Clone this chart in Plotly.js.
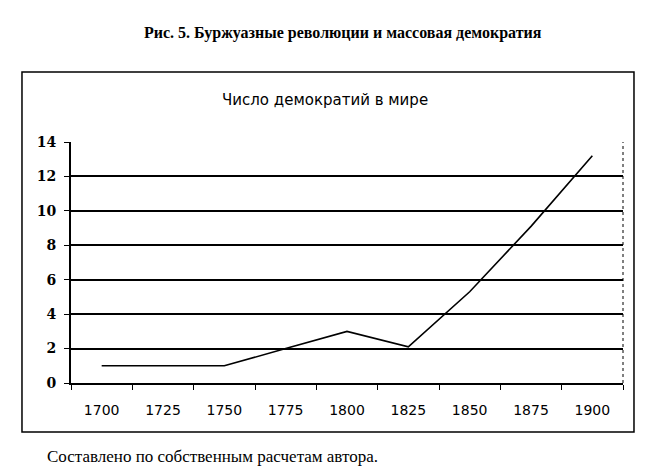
<!DOCTYPE html>
<html>
<head>
<meta charset="utf-8">
<script src="https://cdn.plot.ly/plotly-3.0.1.min.js"></script>
<style>html,body{margin:0;padding:0;background:#fff;}</style>
</head>
<body>
<div id="chart" style="width:656px;height:474px;"></div>
<script>
const years = ['1700', '1725', '1750', '1775', '1800', '1825', '1850', '1875', '1900'];
const democracies = [1, 1, 1, 2, 3, 2.1, 5.3, 9.1, 13.2];
const yTicks = [0, 2, 4, 6, 8, 10, 12, 14];

const mainTitle = 'Рис. 5. Буржуазные революции и массовая демократия';
const chartTitle = 'Число демократий в мире';
const footer = 'Составлено по собственным расчетам автора.';

const trace = {
  x: years,
  y: democracies,
  type: 'scatter',
  mode: 'lines',
  line: {color: '#000', width: 1.6},
  hoverinfo: 'skip'
};

const layout = {
  width: 656,
  height: 474,
  margin: {l: 71, r: 33, t: 142, b: 91},
  paper_bgcolor: '#fff',
  plot_bgcolor: '#fff',
  showlegend: false,
  xaxis: {
    type: 'category',
    range: [-0.5, years.length - 0.5],
    tickson: 'boundaries',
    ticks: 'outside',
    ticklen: 5,
    tickwidth: 1,
    tickcolor: '#000',
    showline: true,
    linecolor: '#000',
    linewidth: 2,
    showgrid: false,
    zeroline: false,
    ticklabelstandoff: 13,
    tickfont: {family: 'DejaVu Sans, Arial, sans-serif', size: 14, color: '#000'}
  },
  yaxis: {
    range: [0, 14],
    tickvals: yTicks,
    ticktext: yTicks.map(String),
    ticks: 'outside',
    ticklen: 5,
    tickwidth: 1,
    tickcolor: '#000',
    showline: true,
    linecolor: '#000',
    linewidth: 2,
    showgrid: true,
    gridcolor: '#000',
    gridwidth: 2,
    zeroline: false,
    ticklabelstandoff: 5,
    tickfont: {family: 'DejaVu Serif, Times New Roman, serif', size: 14, color: '#000', weight: 'bold'}
  },
  shapes: [
    {type: 'rect', xref: 'paper', yref: 'paper', x0: -0.0888, x1: 1.0199, y0: -0.203, y1: 1.290,
     line: {color: '#000', width: 1.5}, fillcolor: 'rgba(0,0,0,0)'},
    {type: 'line', xref: 'paper', yref: 'paper', x0: 1, x1: 1, y0: 0, y1: 1,
     line: {color: '#000', width: 1, dash: 'dot'}}
  ],
  annotations: [
    {text: '<b>' + mainTitle + '</b>', xref: 'paper', yref: 'paper', x: 0.493, y: 1.452,
     xanchor: 'center', yanchor: 'middle', showarrow: false,
     font: {family: 'Liberation Serif, Times New Roman, serif', size: 16, color: '#000'}},
    {text: chartTitle, xref: 'paper', yref: 'paper', x: 0.46, y: 1.174,
     xanchor: 'center', yanchor: 'middle', showarrow: false,
     font: {family: 'DejaVu Sans, Arial, sans-serif', size: 15, color: '#000'}},
    {text: footer, xref: 'paper', yref: 'paper', x: -0.047, y: -0.305,
     xanchor: 'left', yanchor: 'middle', showarrow: false,
     font: {family: 'Liberation Serif, Times New Roman, serif', size: 17, color: '#000'}}
  ]
};

Plotly.newPlot('chart', [trace], layout, {staticPlot: true, displayModeBar: false});
</script>
</body>
</html>
